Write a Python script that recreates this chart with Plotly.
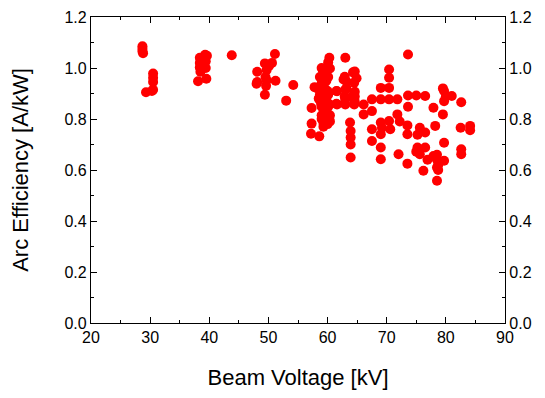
import plotly.graph_objects as go

beam_voltage = [
    28.7, 28.7, 28.7, 28.8,
    29.3,
    30.5, 30.5, 30.5, 30.5, 30.3,
    38.4, 38.4, 38.4, 38.5, 39.3, 39.4, 39.4, 38.1, 39.5, 39.6,
    43.8,
    51.1, 49.4, 50.6, 48.1, 49.7, 48.1, 49.7, 51.2, 49.4, 54.2, 53.0, 50.1, 49.5, 49.6, 48.0,
    60.3, 60.1, 59.0, 60.4, 58.7, 60.1, 57.8, 59.3, 61.5, 58.7, 60.1, 61.5, 57.3, 59.0,
    60.1, 59.0, 60.4, 57.3, 59.3, 60.4, 57.2, 58.6,
    59.2, 59.5, 59.8, 59.0, 59.5, 60.0, 59.2, 59.7, 60.2, 58.9, 59.4, 59.8, 60.3, 59.0,
    59.5, 60.0, 58.5, 58.3, 59.3,
    63.0, 62.7, 63.0, 63.0, 63.0, 64.3, 64.5, 64.2, 64.5, 61.6, 61.6,
    64.6, 64.9, 62.9, 63.2, 63.2, 64.6, 62.9, 62.9, 64.6, 64.6,
    63.8, 63.9, 63.9, 63.9, 63.9,
    66.1, 66.1, 67.5, 67.5, 67.5, 67.5,
    69.0, 69.0, 69.0, 69.0, 69.0, 69.0, 69.2,
    70.4, 70.4, 70.4, 70.4, 70.4, 70.6, 71.8, 71.8, 72.0, 72.2,
    73.6, 73.6, 73.6, 73.5, 73.5, 73.5,
    75.0, 75.2, 76.5, 75.6, 76.5, 75.2, 75.6, 75.0, 76.5, 76.2, 76.9, 77.9, 77.9,
    78.2, 78.5, 78.5, 78.7, 78.7, 78.5, 78.5,
    79.7, 79.7, 79.5, 79.5, 80.0, 79.7, 79.7,
    81.0, 82.6, 82.6, 82.6, 82.5, 84.1, 84.1,
]

arc_efficiency = [
    1.085, 1.075, 1.065, 1.058,
    0.905,
    0.978, 0.962, 0.945, 0.915, 0.910,
    1.040, 1.020, 1.002, 0.985, 1.052, 1.026, 1.000, 0.948, 0.958, 1.048,
    1.050,
    1.055, 1.018, 1.020, 0.985, 0.992, 0.945, 0.952, 0.950, 0.895, 0.933, 0.872, 1.008, 0.965, 0.930, 0.938,
    1.040, 1.022, 1.000, 0.998, 0.965, 0.965, 0.925, 0.933, 0.910, 0.895, 0.895, 0.860, 0.843, 0.848,
    0.848, 0.815, 0.815, 0.782, 0.784, 0.790, 0.742, 0.732,
    0.990, 0.970, 0.950, 0.940, 0.920, 0.910, 0.880, 0.870, 0.860, 0.860, 0.830, 0.820, 0.800, 0.800,
    0.780, 0.780, 0.880, 0.920, 0.770,
    1.040, 0.955, 0.916, 0.877, 0.857, 0.983, 0.942, 0.890, 0.857, 0.909, 0.857,
    0.986, 0.960, 0.966, 0.947, 0.920, 0.907, 0.888, 0.862, 0.888, 0.868,
    0.786, 0.753, 0.727, 0.700, 0.649,
    0.857, 0.818, 0.877, 0.831, 0.760, 0.714,
    0.922, 0.877, 0.786, 0.740, 0.688, 0.642, 0.766,
    0.994, 0.962, 0.922, 0.877, 0.792, 0.760, 0.877, 0.818, 0.662, 0.790,
    1.053, 0.892, 0.848, 0.740, 0.625, 0.775,
    0.892, 0.738, 0.890, 0.766, 0.747, 0.688, 0.662, 0.672, 0.688, 0.597, 0.640, 0.844, 0.655,
    0.773, 0.660, 0.610, 0.620, 0.600, 0.558, 0.640,
    0.910, 0.870, 0.818, 0.920, 0.888, 0.707, 0.636,
    0.890, 0.866, 0.681, 0.662, 0.766, 0.773, 0.756,
]

x_ticks = [20, 30, 40, 50, 60, 70, 80, 90]
y_ticks = [0.0, 0.2, 0.4, 0.6, 0.8, 1.0, 1.2]
y_tick_text = ["0.0", "0.2", "0.4", "0.6", "0.8", "1.0", "1.2"]

font_family = "Liberation Sans, Arial, sans-serif"

fig = go.Figure()
fig.add_trace(go.Scatter(
    x=beam_voltage, y=arc_efficiency, mode="markers",
    marker=dict(color="#ff0000", size=10, line=dict(width=0)),
    showlegend=False,
))
# invisible companion trace so the right-hand axis is drawn
fig.add_trace(go.Scatter(
    x=beam_voltage, y=arc_efficiency, mode="markers", yaxis="y2",
    marker=dict(color="rgba(0,0,0,0)", size=1), hoverinfo="skip",
    showlegend=False,
))

axis_common = dict(
    showgrid=False, zeroline=False, showline=True, linecolor="black", linewidth=1.3,
    ticks="inside", ticklen=6, tickwidth=1.2, tickcolor="black",
    tickfont=dict(family=font_family, size=16, color="black"),
)

fig.update_layout(
    width=529, height=382,
    margin=dict(l=83, r=32, t=9, b=67, autoexpand=False),
    paper_bgcolor="white", plot_bgcolor="white",
    font=dict(family=font_family, color="black"),
    xaxis=dict(
        **axis_common, range=[20, 90], tickvals=x_ticks, mirror="ticks",
        minor=dict(ticks="inside", dtick=5, ticklen=3, tickwidth=1.2, tickcolor="black"),
        title=dict(text="Beam Voltage [kV]", font=dict(family=font_family, size=22), standoff=24),
    ),
    yaxis=dict(
        **axis_common, range=[0, 1.2], tickvals=y_ticks, ticktext=y_tick_text,
        minor=dict(ticks="inside", dtick=0.1, ticklen=3, tickwidth=1.2, tickcolor="black"),
        title=dict(text="Arc Efficiency [A/kW]", font=dict(family=font_family, size=22), standoff=33),
    ),
    yaxis2=dict(
        **axis_common, range=[0, 1.2], tickvals=y_ticks, ticktext=y_tick_text,
        overlaying="y", side="right",
        minor=dict(ticks="inside", dtick=0.1, ticklen=3, tickwidth=1.2, tickcolor="black"),
    ),
)

fig.write_html("out.html")
